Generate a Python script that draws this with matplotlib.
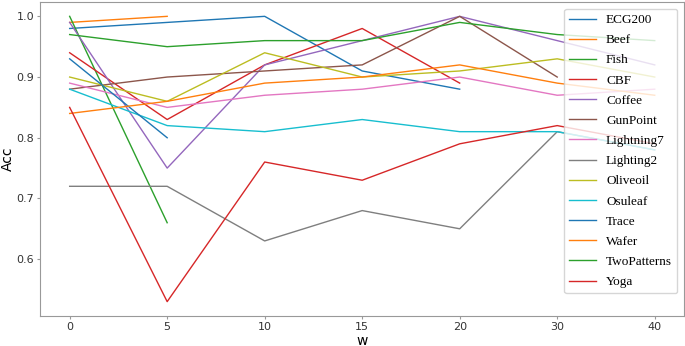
import matplotlib
matplotlib.use("Agg")
import matplotlib.pyplot as plt

w = [0, 5, 10, 15, 20, 30, 40]

names = ['ECG200', 'Beef', 'Fish', 'CBF', 'Coffee', 'GunPoint', 'Lightning7',
         'Lighting2', 'Oliveoil', 'Osuleaf', 'Trace', 'Wafer', 'TwoPatterns', 'Yoga']

ecg200 = [0.98, 0.99, 1.0, 0.91, 0.88]
beef = [0.99, 1.0]
fish = [1.0, 0.66]
cbf = [0.94, 0.83, 0.92, 0.98, 0.89]
coffee = [0.99, 0.75, 0.92, 0.96, 1.0, 0.96, 0.92]
gunpoint = [0.88, 0.90, 0.91, 0.92, 1.0, 0.90]
lightning7 = [0.89, 0.85, 0.87, 0.88, 0.90, 0.87, 0.88]
lighting2 = [0.72, 0.72, 0.63, 0.68, 0.65, 0.81, 0.78]
oliveoil = [0.90, 0.86, 0.94, 0.90, 0.91, 0.93, 0.90]
osuleaf = [0.88, 0.82, 0.81, 0.83, 0.81, 0.81, 0.78]
trace = [0.93, 0.80]
wafer = [0.84, 0.86, 0.89, 0.90, 0.92, 0.89, 0.87]
twopatterns = [0.97, 0.95, 0.96, 0.96, 0.99, 0.97, 0.96]
yoga = [0.85, 0.53, 0.76, 0.73, 0.79, 0.82, 0.79]

series = [ecg200, beef, fish, cbf, coffee, gunpoint, lightning7,
          lighting2, oliveoil, osuleaf, trace, wafer, twopatterns, yoga]

fig, ax = plt.subplots(figsize=(6.85, 3.46), dpi=100)
fig.subplots_adjust(left=0.059, right=0.9985, top=0.994, bottom=0.087)

for name, acc in zip(names, series):
    ax.plot(range(len(acc)), acc, lw=1.0, label=name)

ax.set_xticks(range(len(w)))
ax.set_xticklabels(w)
ax.set_xlabel('w', fontsize=10, labelpad=1)
ax.set_ylabel('Acc', fontsize=10, labelpad=1)
ax.tick_params(labelsize=8, labelcolor='#333333', length=2, pad=2.5, color='#999999')
for s in ax.spines.values():
    s.set_color('#999999')

ax.legend(loc='upper right', prop={'family': 'Liberation Serif', 'size': 9.5},
          labelspacing=0.6)

fig.savefig('out.png')
